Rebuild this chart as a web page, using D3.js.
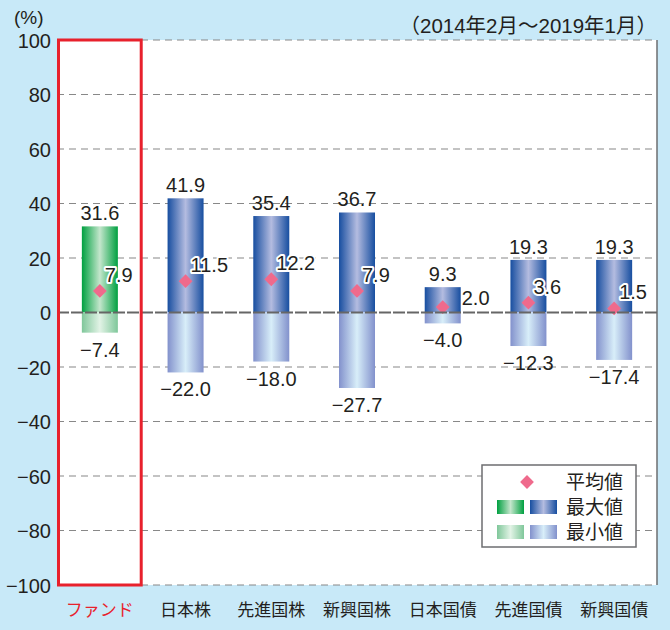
<!DOCTYPE html>
<html>
<head>
<meta charset="utf-8">
<script src="https://cdn.jsdelivr.net/npm/d3@7"></script>
<style>
  body { margin: 0; background: #c8e9f8; }
  text { font-family: "Liberation Sans", "Noto Sans CJK JP", sans-serif; fill: #231f20; }
</style>
</head>
<body>
<div id="chart"></div>
<script>
// data
var categories = ["ファンド", "日本株", "先進国株", "新興国株", "日本国債", "先進国債", "新興国債"];
var maxValues = [31.6, 41.9, 35.4, 36.7, 9.3, 19.3, 19.3];
var minValues = [-7.4, -22.0, -18.0, -27.7, -4.0, -12.3, -17.4];
var avgValues = [7.9, 11.5, 12.2, 7.9, 2.0, 3.6, 1.5];
var yTicks = [100, 80, 60, 40, 20, 0, -20, -40, -60, -80, -100];

var W = 670, H = 630;
var margin = {top: 40, right: 13, bottom: 45, left: 57};
var width = W - margin.left - margin.right,
    height = H - margin.top - margin.bottom;

var svg = d3.select("#chart").append("svg")
    .attr("width", W).attr("height", H);

var defs = svg.append("defs");
function addGrad(id, edge, mid) {
  var g = defs.append("linearGradient").attr("id", id)
      .attr("x1", "0%").attr("x2", "100%").attr("y1", "0%").attr("y2", "0%");
  g.append("stop").attr("offset", "0%").attr("stop-color", edge);
  g.append("stop").attr("offset", "50%").attr("stop-color", mid);
  g.append("stop").attr("offset", "100%").attr("stop-color", edge);
}
addGrad("gMaxFund", "#00a040", "#c4e6cc");
addGrad("gMinFund", "#7fc79a", "#e2f3e6");
addGrad("gMax", "#174ea0", "#b4bce0");
addGrad("gMin", "#8291cc", "#d8eef9");

var g = svg.append("g")
    .attr("transform", "translate(" + margin.left + "," + margin.top + ")");

var x = d3.scaleBand().domain(categories).range([0, width]);
var y = d3.scaleLinear().domain([-100, 100]).range([height, 0]);

// plot background
g.append("rect").attr("width", width).attr("height", height).attr("fill", "#fff");
g.append("line").attr("x1", width).attr("x2", width).attr("y1", 0).attr("y2", height)
  .attr("stroke", "#6d6e70").attr("stroke-width", 1.5);

// grid lines
g.selectAll(".grid").data(yTicks.filter(function(d){ return d != 0; }))
  .enter().append("line")
    .attr("x1", 0).attr("x2", width)
    .attr("y1", function(d){ return y(d); }).attr("y2", function(d){ return y(d); })
    .attr("stroke", "#888").attr("stroke-width", 1.2)
    .attr("stroke-dasharray", "7,5");

// y axis
var yAxis = d3.axisLeft(y).tickValues(yTicks).tickSize(0).tickPadding(6)
  .tickFormat(function(d){ return d < 0 ? "\u2212" + Math.abs(d) : d; });
var ya = g.append("g").call(yAxis);
ya.select(".domain").remove();
ya.selectAll("text").style("font-size", "20px").attr("fill", "#231f20")
  .attr("font-family", "Liberation Sans, sans-serif").attr("dy", "0.36em");

// bars
var data = categories.map(function(c, i) {
  return {cat: c, max: maxValues[i], min: minValues[i], avg: avgValues[i], i: i};
});
var bw = 36;

var bars = g.selectAll(".bar").data(data).enter().append("g");
bars.append("rect")
  .attr("x", function(d){ return x(d.cat) + x.bandwidth()/2 - bw/2; })
  .attr("y", function(d){ return y(d.max); })
  .attr("width", bw)
  .attr("height", function(d){ return y(0) - y(d.max); })
  .attr("fill", function(d){ return d.i == 0 ? "url(#gMaxFund)" : "url(#gMax)"; });
bars.append("rect")
  .attr("x", function(d){ return x(d.cat) + x.bandwidth()/2 - bw/2; })
  .attr("y", y(0))
  .attr("width", bw)
  .attr("height", function(d){ return y(d.min) - y(0); })
  .attr("fill", function(d){ return d.i == 0 ? "url(#gMinFund)" : "url(#gMin)"; });

// zero line
g.append("line").attr("x1", 0).attr("x2", width).attr("y1", y(0)).attr("y2", y(0))
  .attr("stroke", "#666").attr("stroke-width", 2).attr("stroke-dasharray", "12,2");

function fmt(v) {
  return v < 0 ? "\u2212" + Math.abs(v).toFixed(1) : v.toFixed(1);
}

// max / min labels
bars.append("text")
  .attr("x", function(d){ return x(d.cat) + x.bandwidth()/2; })
  .attr("y", function(d){ return y(d.max) - 6; })
  .attr("text-anchor", "middle").style("font-size", "20px")
  .text(function(d){ return fmt(d.max); });
bars.append("text")
  .attr("x", function(d){ return x(d.cat) + x.bandwidth()/2; })
  .attr("y", function(d){ return y(d.min) + 24; })
  .attr("text-anchor", "middle").style("font-size", "20px")
  .text(function(d){ return fmt(d.min); });

// averages
var dia = d3.symbol().type(d3.symbolSquare).size(95);
bars.append("path")
  .attr("d", dia)
  .attr("transform", function(d){
    return "translate(" + (x(d.cat) + x.bandwidth()/2) + "," + y(d.avg) + ") rotate(45)";
  })
  .attr("fill", "#ef6a8c");
bars.append("text")
  .attr("x", function(d){ return x(d.cat) + x.bandwidth()/2 + (d.i == 4 ? 19 : 5); })
  .attr("y", function(d){ return y(d.avg) - (d.i == 4 ? 2 : 9); })
  .style("font-size", "20px")
  .attr("stroke", function(d){ return d.i == 4 ? "none" : "#fff"; })
  .attr("stroke-width", 4).attr("stroke-linejoin", "round")
  .attr("paint-order", "stroke")
  .text(function(d){ return fmt(d.avg); });

// red frame around fund
g.append("rect")
  .attr("x", x(categories[0]) + 1.5).attr("y", 0)
  .attr("width", x.bandwidth() - 3).attr("height", height)
  .attr("fill", "none").attr("stroke", "#e8212c").attr("stroke-width", 3);

// x labels
g.selectAll(".xl").data(categories).enter().append("text")
  .attr("x", function(d){ return x(d) + x.bandwidth()/2; })
  .attr("y", height + 31)
  .attr("text-anchor", "middle")
  .style("font-size", "17px")
  .style("font-family", "Noto Sans CJK JP, sans-serif")
  .style("fill", function(d, i){ return i == 0 ? "#e8212c" : "#231f20"; })
  .text(function(d){ return d; });

// header texts
svg.append("text").attr("x", 14).attr("y", 24).style("font-size", "19px").text("(%)");
svg.append("text").attr("x", 657).attr("y", 33).attr("text-anchor", "end")
  .style("font-size", "20.5px")
  .style("font-family", "Liberation Sans, Noto Sans CJK JP, sans-serif")
  .text("（2014年2月～2019年1月）");

// legend
var lg = svg.append("g").attr("transform", "translate(482,465)");
lg.append("rect").attr("width", 154).attr("height", 82)
  .attr("fill", "#fff").attr("stroke", "#6d6e70").attr("stroke-width", 1.5);
lg.append("path").attr("d", dia).attr("transform", "translate(45,17) rotate(45)")
  .attr("fill", "#ef6a8c");
var sw = [["gMaxFund", "gMax", 42], ["gMinFund", "gMin", 67]];
sw.forEach(function(s) {
  lg.append("rect").attr("x", 15).attr("y", s[2] - 7).attr("width", 27).attr("height", 14)
    .attr("fill", "url(#" + s[0] + ")");
  lg.append("rect").attr("x", 48).attr("y", s[2] - 7).attr("width", 27).attr("height", 14)
    .attr("fill", "url(#" + s[1] + ")");
});
var legendLabels = ["平均値", "最大値", "最小値"];
lg.selectAll(".lt").data(legendLabels).enter().append("text")
  .attr("x", 84).attr("y", function(d, i){ return 17 + i * 25; })
  .attr("dy", "0.36em")
  .style("font-size", "19px")
  .style("font-family", "Noto Sans CJK JP, sans-serif")
  .text(function(d){ return d; });
</script>
</body>
</html>
